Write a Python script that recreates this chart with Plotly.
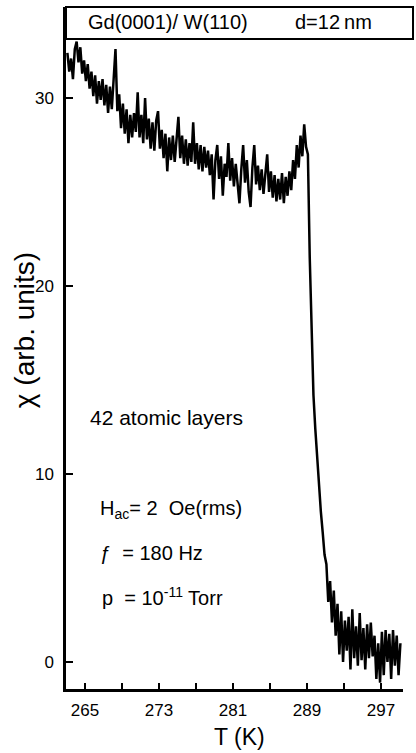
import plotly.graph_objects as go

# Temperature samples (K)
temperature = [
    263.1, 263.3, 263.5, 263.7, 263.9, 264.1, 264.3, 264.5, 264.7, 264.9,
    265.1, 265.3, 265.5, 265.7, 265.9, 266.1, 266.3, 266.5, 266.7, 266.9,
    267.1, 267.3, 267.5, 267.7, 267.9, 268.1, 268.3, 268.5, 268.7, 268.9,
    269.1, 269.3, 269.5, 269.7, 269.9, 270.1, 270.3, 270.5, 270.7, 270.9,
    271.1, 271.3, 271.5, 271.7, 271.9, 272.1, 272.3, 272.5, 272.7, 272.9,
    273.1, 273.3, 273.5, 273.7, 273.9, 274.1, 274.3, 274.5, 274.7, 274.9,
    275.1, 275.3, 275.5, 275.7, 275.9, 276.1, 276.3, 276.5, 276.7, 276.9,
    277.1, 277.3, 277.5, 277.7, 277.9, 278.1, 278.3, 278.5, 278.7, 278.9,
    279.1, 279.3, 279.5, 279.7, 279.9, 280.1, 280.3, 280.5, 280.7, 280.9,
    281.1, 281.3, 281.5, 281.7, 281.9, 282.1, 282.3, 282.5, 282.7, 282.9,
    283.1, 283.3, 283.5, 283.7, 283.9, 284.1, 284.3, 284.5, 284.7, 284.9,
    285.1, 285.3, 285.5, 285.7, 285.9, 286.1, 286.3, 286.5, 286.7, 286.9,
    287.1, 287.3, 287.5, 287.7, 287.9, 288.1, 288.3, 288.5, 288.7, 288.9,
    289.1, 289.3, 289.5, 289.7, 289.9, 290.1, 290.3, 290.5, 290.7, 290.9,
    291.1, 291.3, 291.5, 291.7, 291.9, 292.1, 292.3, 292.5, 292.7, 292.9,
    293.1, 293.3, 293.5, 293.7, 293.9, 294.1, 294.3, 294.5, 294.7, 294.9,
    295.1, 295.3, 295.5, 295.7, 295.9, 296.1, 296.3, 296.5, 296.7, 296.9,
    297.1, 297.3, 297.5, 297.7, 297.9, 298.1, 298.3, 298.5, 298.7, 298.9,
    299.1,
]

# Susceptibility chi (arb. units)
chi = [
    32.4, 31.4, 32.1, 31.0, 32.6, 33.0, 31.9, 32.7, 31.3, 32.0,
    30.9, 31.8, 30.5, 31.4, 30.1, 31.2, 29.7, 30.9, 29.9, 31.0,
    29.6, 30.7, 29.2, 30.6, 29.4, 30.8, 32.6, 29.3, 30.2, 28.4,
    29.7, 28.1, 29.4, 27.6, 29.1, 27.9, 29.2, 28.2, 30.3, 27.9,
    29.1, 27.6, 30.0, 27.8, 28.9, 27.3, 28.7, 27.2, 28.8, 29.3,
    27.3, 28.3, 26.8, 28.1, 26.1, 27.9, 26.7, 28.0, 26.6, 27.8,
    29.0, 26.8, 28.0, 26.5, 27.8, 26.4, 27.6, 26.6, 28.7, 26.5,
    27.6, 26.2, 27.5, 26.1, 27.4, 26.3, 27.2, 25.9, 27.0, 24.6,
    26.7, 27.5, 25.7, 26.9, 24.8, 26.5, 25.8, 27.6, 25.6, 26.8,
    25.3, 26.5, 25.2, 24.4, 26.2, 27.5, 25.5, 26.7, 25.0, 24.2,
    26.3, 27.5, 25.4, 26.4, 25.1, 26.2, 24.9, 26.1, 27.0, 25.0,
    26.1, 24.7, 25.9, 24.5, 25.7, 24.6, 26.0, 24.4, 25.8, 24.8,
    26.1, 25.1, 26.7, 25.7, 27.5, 26.3, 28.0, 26.9, 28.6, 27.4,
    27.0, 21.5, 17.5, 14.2, 12.4, 10.8, 9.3, 8.0, 6.9, 5.7,
    5.2, 3.2, 4.3, 2.1, 3.8, 1.4, 3.1, 0.4, 2.7, 0.0,
    2.2, 0.6, 2.4, -0.4, 2.8, 0.2, 1.9, -0.2, 2.6, 0.1,
    1.8, -0.4, 2.0, 0.2, 2.1, 0.3, 1.4, -0.9, 1.0, -1.1,
    1.6, -0.7, 1.7, 0.0, 1.5, -0.9, 1.7, -0.2, 1.4, -0.7,
    1.0,
]

x_tickvals = [265, 273, 281, 289, 297]
x_ticktext = ["265", "273", "281", "289", "297"]
x_minor_tickvals = [269, 277, 285, 293]
y_tickvals = [0, 10, 20, 30]
y_ticktext = ["0", "10", "20", "30"]

FONT = "Liberation Sans, Arial, sans-serif"

fig = go.Figure()
fig.add_trace(go.Scatter(
    x=temperature, y=chi, mode="lines",
    line=dict(color="black", width=2.5),
    showlegend=False,
))

fig.update_layout(
    width=416, height=753,
    margin=dict(l=66, r=13, t=7, b=64),
    paper_bgcolor="white", plot_bgcolor="white",
    font=dict(family=FONT, color="black"),
    xaxis=dict(
        range=[262.95, 299.38], showgrid=False, zeroline=False,
        showline=True, linecolor="black", linewidth=2.5,
        ticks="inside", ticklen=6, tickwidth=1.5, tickcolor="black",
        tickvals=x_tickvals, ticktext=x_ticktext,
        minor=dict(tickvals=x_minor_tickvals, ticks="inside", ticklen=6,
                   tickwidth=1.5, tickcolor="black", showgrid=False),
        tickfont=dict(size=17, family=FONT), ticklabelstandoff=4,
    ),
    yaxis=dict(
        range=[-1.436, 34.84], showgrid=False, zeroline=False,
        showline=True, linecolor="black", linewidth=2.5,
        ticks="inside", ticklen=7, tickwidth=1.5, tickcolor="black",
        tickvals=y_tickvals, ticktext=y_ticktext,
        tickfont=dict(size=17, family=FONT), ticklabelstandoff=6,
    ),
)

# header box
fig.add_shape(type="rect", xref="paper", yref="paper",
              x0=0, x1=1.0297, y0=0.9531, y1=1.0,
              line=dict(color="black", width=2), fillcolor="rgba(0,0,0,0)")

ann = [
    dict(text="Gd(0001)/ W(110)", x=0.3027, y=0.978, xanchor="center", yanchor="middle", size=20),
    dict(text="d=12\u2009nm", x=0.795, y=0.978, xanchor="center", yanchor="middle", size=20),
    dict(text="42 atomic layers", x=0.0653, y=0.3974, xanchor="left", yanchor="middle", size=21),
    dict(text="H<sub>ac</sub>= 2\u00a0\u00a0Oe(rms)", x=0.095, y=0.2625, xanchor="left", yanchor="middle", size=20),
    dict(text="\u0192\u00a0\u00a0= 180 Hz", x=0.095, y=0.1994, xanchor="left", yanchor="middle", size=20),
    dict(text="p\u00a0\u00a0= 10<sup>-11</sup> Torr", x=0.1009, y=0.1349, xanchor="left", yanchor="middle", size=20),
    dict(text="T (K)", x=0.516, y=-0.0704, xanchor="center", yanchor="middle", size=23),
]
for a in ann:
    fig.add_annotation(text=a["text"], x=a["x"], y=a["y"], xref="paper", yref="paper",
                       xanchor=a["xanchor"], yanchor=a["yanchor"], showarrow=False,
                       font=dict(size=a["size"], family=FONT, color="black"))

fig.add_annotation(text="\u03c7 (arb. units)", x=-0.125, y=0.526, xref="paper", yref="paper",
                   xanchor="center", yanchor="middle", textangle=-90, showarrow=False,
                   font=dict(size=28, family=FONT, color="black"))

fig.write_html("out.html", config={"displayModeBar": False},
               post_script="document.body.style.margin='0';")
